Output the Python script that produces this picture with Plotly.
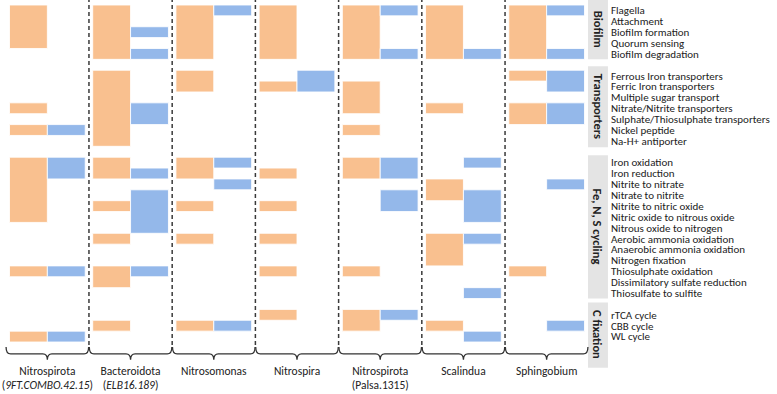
import plotly.graph_objects as go

# ---------------- data ----------------
taxa = ["Nitrospirota<br>(<i>9FT.COMBO.42.15</i>)", "Bacteroidota<br>(<i>ELB16.189</i>)",
        "Nitrosomonas", "Nitrospira", "Nitrospirota<br>(Palsa.1315)", "Scalindua", "Sphingobium"]

categories = ["Biofilm", "Transporters", "Fe, N, S cycling", "C fixation"]
biofilm_features = ["Flagella", "Attachment", "Biofilm formation", "Quorum sensing", "Biofilm degradation"]
transporter_features = ["Ferrous Iron transporters", "Ferric Iron transporters", "Multiple sugar transport",
                        "Nitrate/Nitrite transporters", "Sulphate/Thiosulphate transporters",
                        "Nickel peptide", "Na-H+ antiporter"]
fens_features = ["Iron oxidation", "Iron reduction", "Nitrite to nitrate", "Nitrate to nitrite",
                 "Nitrite to nitric oxide", "Nitric oxide to nitrous oxide", "Nitrous oxide to nitrogen",
                 "Aerobic ammonia oxidation", "Anaerobic ammonia oxidation", "Nitrogen fixation",
                 "Thiosulphate oxidation", "Dissimilatory sulfate reduction", "Thiosulfate to sulfite"]
cfix_features = ["rTCA cycle", "CBB cycle", "WL cycle"]

# presence (1) / absence (0) per feature, order: biofilm | transporters | Fe,N,S | C fixation
nitrospirota_9ft_orange = [1,1,1,1,0, 0,0,0,1,0,1,0, 1,1,1,1,1,1,0,0,0,0,1,0,0, 0,0,1]
nitrospirota_9ft_blue   = [0,0,0,0,0, 0,0,0,0,0,1,0, 1,1,0,0,0,0,0,0,0,0,1,0,0, 0,0,1]
bacteroidota_orange     = [1,1,1,1,1, 1,1,1,1,1,1,1, 1,1,0,0,1,0,0,1,0,0,1,1,0, 0,1,0]
bacteroidota_blue       = [0,0,1,0,1, 0,0,0,1,1,0,0, 0,1,0,1,1,1,1,0,0,0,1,0,0, 0,0,0]
nitrosomonas_orange     = [1,1,1,1,1, 1,1,0,0,0,0,0, 1,1,0,0,1,0,0,1,0,0,0,0,0, 0,1,0]
nitrosomonas_blue       = [1,0,0,0,0, 0,0,0,0,0,0,0, 1,0,1,0,0,0,0,0,0,0,0,0,0, 0,1,0]
nitrospira_orange       = [1,1,1,1,1, 0,1,0,0,0,0,0, 0,1,0,0,1,0,0,1,0,0,1,0,0, 1,0,0]
nitrospira_blue         = [0,0,0,0,0, 1,1,0,0,0,0,0, 0,0,0,0,0,0,0,0,0,0,0,0,0, 0,0,0]
palsa_orange            = [1,1,1,1,1, 0,1,1,1,0,1,0, 1,1,0,0,0,0,0,0,0,0,1,0,0, 1,1,0]
palsa_blue              = [1,0,0,0,1, 0,0,0,0,0,0,0, 1,1,0,1,1,0,0,0,0,0,0,0,0, 1,0,0]
scalindua_orange        = [1,1,1,1,1, 0,0,0,1,0,0,0, 0,0,1,1,0,0,0,1,1,1,0,0,0, 0,1,0]
scalindua_blue          = [0,0,0,0,1, 0,0,0,0,0,0,0, 1,0,0,1,1,1,0,1,0,0,0,0,1, 0,0,1]
sphingobium_orange      = [1,1,1,1,1, 1,0,0,1,1,0,0, 0,0,0,0,0,0,0,0,0,0,1,0,0, 0,0,0]
sphingobium_blue        = [1,0,0,0,1, 1,1,0,1,1,0,0, 0,0,1,0,0,0,0,0,0,0,0,0,0, 0,1,0]

orange_series = [nitrospirota_9ft_orange, bacteroidota_orange, nitrosomonas_orange, nitrospira_orange,
                 palsa_orange, scalindua_orange, sphingobium_orange]
blue_series = [nitrospirota_9ft_blue, bacteroidota_blue, nitrosomonas_blue, nitrospira_blue,
               palsa_blue, scalindua_blue, sphingobium_blue]

# ---------------- styling / layout ----------------
ORANGE = "#F9C08F"
BLUE = "#94B8EA"
FONT = "Carlito, Lato, sans-serif"
W, H = 777, 394

group_lists = [biofilm_features, transporter_features, fens_features, cfix_features]
features, slots = [], []
s = 0
for feats in group_lists:
    for f in feats:
        features.append(f)
        slots.append(s)
        s += 1
    s += 1  # gap row between categories
n_slots = s - 1

PX = 38.0              # pixels per sub-column
P = 83.5 / PX          # group pitch in sub-column units
ML, MR, MT = 2, 188, 5
row_px = 11.0
MB = H - MT - n_slots * row_px
xmin = (ML - 7.5) / PX
xmax = xmin + (W - ML - MR) / PX

def paper_x(px):
    return (px - ML) / (W - ML - MR)

def paper_y(py):
    return (H - MB - py) / (H - MT - MB)

def runs(values):
    out = []
    i = 0
    while i < len(values):
        if values[i]:
            j = i
            while j + 1 < len(values) and values[j + 1] and slots[j + 1] == slots[j] + 1:
                j += 1
            out.append((slots[i], slots[j] - slots[i] + 1))
            i = j + 1
        else:
            i += 1
    return out

fig = go.Figure()
for g in range(len(taxa)):
    for k, (series, col) in enumerate([(orange_series, ORANGE), (blue_series, BLUE)]):
        rr = runs(series[g])
        if not rr:
            continue
        fig.add_trace(go.Bar(
            x=[g * P + 0.5 + k] * len(rr),
            y=[r[1] for r in rr],
            base=[r[0] for r in rr],
            width=1.0,
            marker=dict(color=col, line=dict(color="rgba(255,255,255,0.85)", width=1)),
            showlegend=False, hoverinfo="skip"))

shapes = []
# dashed separators
for g in range(len(taxa) - 1):
    xs = g * P + 2 + (P - 2) / 2
    shapes.append(dict(type="line", xref="x", yref="paper", x0=xs, x1=xs,
                       y0=paper_y(349), y1=paper_y(-2),
                       line=dict(color="#3a3a3a", width=1.5, dash="4px,3px")))
# braces
yt, yh, yb = paper_y(351), paper_y(358), paper_y(364)
for g in range(len(taxa)):
    xl, xr, xc, d = g * P - 0.09, g * P + 2.09, g * P + 1, 0.12
    path = (f"M {xl},{yt} Q {xl},{yh} {xl + d},{yh} L {xc - d},{yh} Q {xc},{yh} {xc},{yb} "
            f"Q {xc},{yh} {xc + d},{yh} L {xr - d},{yh} Q {xr},{yh} {xr},{yt}")
    shapes.append(dict(type="path", xref="x", yref="paper", path=path,
                       line=dict(color="#333333", width=1.3)))
# category boxes
box_px = [(0, 60), (67, 149), (157, 302), (306, 372)]
text_cy = [30, 108, 229, 339]
annotations = []
for cat, (t, b), cy in zip(categories, box_px, text_cy):
    shapes.append(dict(type="rect", xref="paper", yref="paper", layer="below",
                       x0=paper_x(588), x1=paper_x(608), y0=paper_y(b), y1=paper_y(t),
                       fillcolor="#E4E4E4", line=dict(width=0)))
    annotations.append(dict(text=f"<b>{cat}</b>", xref="paper", yref="paper",
                            x=paper_x(598), y=paper_y(cy), xanchor="center", yanchor="middle",
                            showarrow=False, textangle=90,
                            font=dict(family=FONT, size=12.5, color="#222222")))

fig.update_layout(
    width=W, height=H, margin=dict(l=ML, r=MR, t=MT, b=MB),
    paper_bgcolor="white", plot_bgcolor="white", barmode="overlay",
    font=dict(family=FONT, color="#222222"),
    shapes=shapes, annotations=annotations, showlegend=False,
    xaxis=dict(range=[xmin, xmax], showgrid=False, zeroline=False, showline=False, ticks="",
               tickvals=[g * P + 1 for g in range(len(taxa))], ticktext=taxa,
               ticklabeloverflow="allow",
               tickfont=dict(family=FONT, size=11.5, color="#222222"), ticklabelstandoff=20),
    yaxis=dict(range=[n_slots, 0], showgrid=False, zeroline=False, showline=False, ticks="",
               side="right", tickvals=[sl + 0.5 for sl in slots], ticktext=features,
               ticklabeloverflow="allow",
               tickfont=dict(family=FONT, size=11, color="#222222"), ticklabelstandoff=21),
)

fig.write_html("out.html")
